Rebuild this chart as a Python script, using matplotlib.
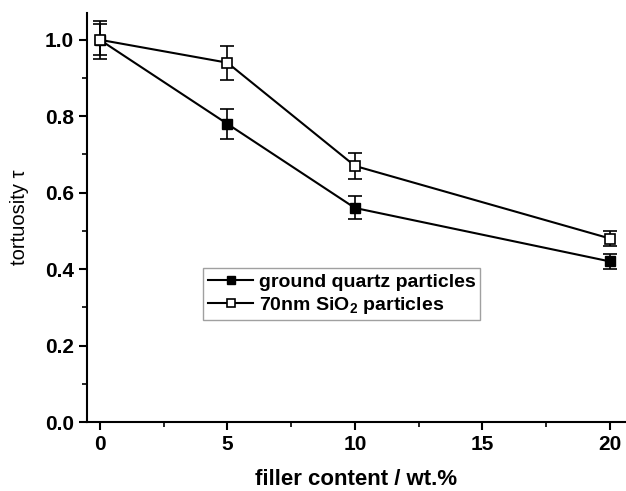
import matplotlib
matplotlib.use('Agg')
from matplotlib import pyplot as plt
from matplotlib.ticker import MultipleLocator
from matplotlib.lines import Line2D

plt.rcParams['font.family'] = ['Liberation Sans', 'DejaVu Sans']
plt.rcParams['mathtext.fontset'] = 'custom'
plt.rcParams['mathtext.bf'] = 'Liberation Sans:bold'
plt.rcParams['mathtext.rm'] = 'Liberation Sans:bold'

# data
filler = [0, 5, 10, 20]
quartz = [1.0, 0.78, 0.56, 0.42]
quartz_err = [0.04, 0.04, 0.03, 0.02]
sio2 = [1.0, 0.94, 0.67, 0.48]
sio2_err = [0.05, 0.045, 0.035, 0.02]

fig = plt.figure(figsize=(6.26, 4.91), dpi=100)
ax = fig.add_axes([0.139, 0.1405, 0.86, 0.833])

ax.errorbar(filler, quartz, yerr=quartz_err, color='black', lw=1.5, marker='s', ms=7.5,
            mfc='black', mec='black', capsize=5, elinewidth=1.2, capthick=1.2, zorder=3)
ax.errorbar(filler, sio2, yerr=sio2_err, color='black', lw=1.5, marker='s', ms=7.5,
            mfc='white', mec='black', mew=1.2, capsize=5, elinewidth=1.2, capthick=1.2, zorder=4)

ax.set_xlim(-0.5, 20.6)
ax.set_ylim(0, 1.07)
ax.xaxis.set_major_locator(MultipleLocator(5))
ax.xaxis.set_minor_locator(MultipleLocator(2.5))
ax.yaxis.set_major_locator(MultipleLocator(0.2))
ax.yaxis.set_minor_locator(MultipleLocator(0.1))
ax.spines['top'].set_visible(False)
ax.spines['right'].set_visible(False)
for s in ['left', 'bottom']:
    ax.spines[s].set_linewidth(1.5)
ax.tick_params(which='major', direction='out', length=6, width=1.5, labelsize=15)
ax.tick_params(which='minor', direction='out', length=3.5, width=1.2)
for lbl in ax.get_xticklabels() + ax.get_yticklabels():
    lbl.set_fontweight('bold')

ax.set_xlabel('filler content / wt.%', fontsize=16, fontweight='bold', labelpad=11)
ax.set_ylabel('tortuosity \u03c4', fontsize=14.5, labelpad=11)

handles = [
    Line2D([], [], color='black', lw=1.5, marker='s', ms=6, mfc='black', mec='black'),
    Line2D([], [], color='black', lw=1.5, marker='s', ms=6, mfc='white', mec='black', mew=1.2),
]
labels = ['ground quartz particles', '70nm SiO$_\\mathbf{2}$ particles']
leg = ax.legend(handles, labels, loc='upper left', bbox_to_anchor=(0.216, 0.376),
                fancybox=False, edgecolor='#888888', prop={'weight': 'bold', 'size': 14},
                handlelength=2.3, borderpad=0.25, labelspacing=0.2, handletextpad=0.3,
                borderaxespad=0)
leg.get_frame().set_linewidth(1.0)

fig.savefig('out.png', dpi=100)
